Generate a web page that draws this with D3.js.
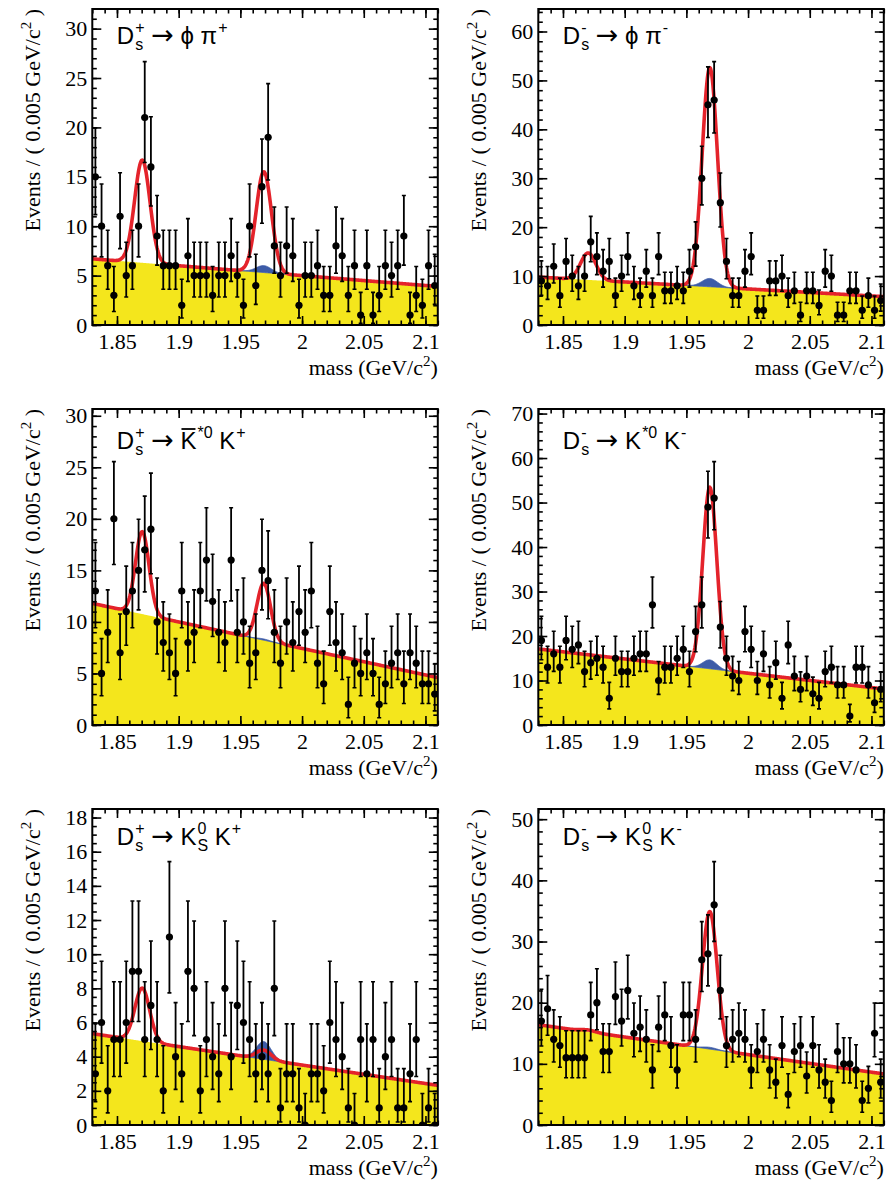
<!DOCTYPE html>
<html>
<head>
<meta charset="utf-8">
<script src="https://cdn.jsdelivr.net/npm/d3@7"></script>
<style>
  html, body { margin: 0; padding: 0; background: #ffffff; }
  svg { display: block; }
  text { white-space: pre; }
</style>
</head>
<body>
<svg id="chart" width="888" height="1192"></svg>
<script>
// ---- Binning: 56 bins of 5 MeV/c^2 over the D(s) mass window ----
const massMin = 1.83;
const massMax = 2.11;
const binWidth = 0.005;
const xTickValues = [1.85, 1.9, 1.95, 2, 2.05, 2.1];
const xTickLabels = ["1.85", "1.9", "1.95", "2", "2.05", "2.1"];

// ---- Event counts per bin ----
const countsPhiPiPlus = [15,10,6,3,11,5,6,10,21,16,9,6,6,6,2,7,5,5,5,3,5,5,7,5,2,10,4,14,19,8,5,8,7,2,5,5,6,3,3,8,7,3,6,1,6,1,3,6,5,6,9,1,3,2,6,4];
const countsPhiPiMinus = [9,8,12,6,13,10,8,10,17,14,11,13,6,10,14,8,6,11,6,14,7,7,8,7,11,16,30,45,46,25,13,6,6,11,14,3,3,9,9,10,6,7,2,7,7,4,11,10,2,2,7,7,3,6,3,5];
const countsKstarKPlus = [13,5,9,20,7,11,13,15,17,19,10,8,7,5,13,8,9,13,16,12,9,8,16,9,10,6,7,15,14,9,6,10,8,11,9,13,6,4,11,8,7,2,6,5,7,5,2,4,6,7,4,7,6,4,4,3];
const countsKstarKMinus = [19,13,16,13,19,17,18,12,14,15,13,6,15,12,12,15,16,16,27,10,13,13,15,17,12,21,27,49,51,22,15,11,10,21,17,10,16,9,14,6,18,11,8,11,7,6,12,13,9,9,2,13,13,9,5,8];
const countsKsKPlus = [3,6,2,5,5,6,9,9,5,7,5,2,11,4,3,9,8,2,5,4,3,8,4,7,6,5,3,4,3,8,1,3,3,1,0,3,3,2,6,5,4,1,0,5,3,5,1,4,5,1,1,3,5,0,1,0];
const countsKsKMinus = [17,19,14,13,11,11,11,11,18,20,12,12,21,17,22,15,16,14,9,16,18,13,9,18,18,14,27,28,36,22,13,14,15,14,9,12,14,9,7,13,5,12,13,8,13,9,7,4,12,10,10,9,4,6,15,7];

// ---- Fit result per channel ----
// combinatorial background (linear) at the two ends of the window
const bkgAtLowEdge  = [6.7, 9.8, 11.8, 17.1, 5.35, 16.4];
const bkgAtHighEdge = [3.9, 5.8, 4.6, 8.1, 2.32, 8.35];
// Gaussian peak heights above background
const dplusPeakHeight = [10.4, 5.5, 8.0, 0.0, 3.1, 0.3];
const dsPeakHeight    = [9.5, 43.1, 5.4, 38.8, -0.5, 22.2];
const peakingBkgHeight = [0.7, 1.7, 0.12, 2.0, 1.04, 0.3];
const peakSigma = [0.0062, 0.0062, 0.0055, 0.0057, 0.0060, 0.0060];
const dplusMass = 1.8705;
const dsMass = 1.969;

// ---- Axis tick steps ----
const yMajorSteps = [5, 10, 5, 10, 2, 10];
const yMinorSteps = [1, 2, 1, 2, 0.5, 2];

// ---- Channel titles (base text with optional sub/superscripts) ----
const titlePhiPiPlus   = [{t: "D", sub: "s", sup: "+"}, {t: " \u2192 \u03d5 \u03c0", sup: "+"}];
const titlePhiPiMinus  = [{t: "D", sub: "s", sup: "-"}, {t: " \u2192 \u03d5 \u03c0", sup: "-"}];
const titleKstarKPlus  = [{t: "D", sub: "s", sup: "+"}, {t: " \u2192 "}, {t: "K", bar: true, sup: "*0"}, {t: " K", sup: "+"}];
const titleKstarKMinus = [{t: "D", sub: "s", sup: "-"}, {t: " \u2192 K", sup: "*0"}, {t: " K", sup: "-"}];
const titleKsKPlus     = [{t: "D", sub: "s", sup: "+"}, {t: " \u2192 K", sub: "S", sup: "0"}, {t: " K", sup: "+"}];
const titleKsKMinus    = [{t: "D", sub: "s", sup: "-"}, {t: " \u2192 K", sub: "S", sup: "0"}, {t: " K", sup: "-"}];

const panelCounts = [countsPhiPiPlus, countsPhiPiMinus, countsKstarKPlus, countsKstarKMinus, countsKsKPlus, countsKsKMinus];
const panelTitles = [titlePhiPiPlus, titlePhiPiMinus, titleKstarKPlus, titleKstarKMinus, titleKsKPlus, titleKsKMinus];

// ---- Layout ----
const colLeft = [92.3, 538.3];
const plotW = 345.5;
const rowTop = [9, 409, 809];
const plotH = 316;
const titleBaseline = [43.5, 449, 845];

const serif = "'Liberation Serif', 'Times New Roman', serif";
const sans = "'Liberation Sans', Arial, Helvetica, sans-serif";
const arrowFont = "'DejaVu Sans', sans-serif";
const yellow = "#f4e61c";
const blue = "#3d5ca8";
const red = "#e4232b";

// ---- Poisson 68.3% central interval for the error bars ----
const tailProb = 0.158655;
function poissonCdf(n, mu) {
  if (n < 0) return 0;
  let term = Math.exp(-mu), s = term;
  for (let k = 1; k <= n; k++) { term *= mu / k; s += term; }
  return s;
}
function poissonUpper(n) {
  let lo = n, hi = n + 20 + 5 * Math.sqrt(n + 1);
  for (let i = 0; i < 80; i++) {
    const mid = (lo + hi) / 2;
    if (poissonCdf(n, mid) > tailProb) lo = mid; else hi = mid;
  }
  return (lo + hi) / 2;
}
function poissonLower(n) {
  if (n === 0) return 0;
  let lo = 0, hi = n;
  for (let i = 0; i < 80; i++) {
    const mid = (lo + hi) / 2;
    if (1 - poissonCdf(n - 1, mid) < tailProb) lo = mid; else hi = mid;
  }
  return (lo + hi) / 2;
}

const svg = d3.select("#chart");

function gauss(m, mean, sigma) {
  const z = (m - mean) / sigma;
  return Math.exp(-0.5 * z * z);
}

// main text run; the arrow is set in a face with a long, thin arrow glyph
function appendRun(textSel, str) {
  str.split(/(\u2192)/).forEach(chunk => {
    if (!chunk) return;
    const ts = textSel.append("tspan").text(chunk);
    if (chunk === "\u2192") ts.attr("font-family", arrowFont).attr("font-size", 27);
  });
}

function drawTitle(g, x, y, parts) {
  let cx = x;
  parts.forEach(p => {
    const base = g.append("text").attr("x", cx).attr("y", y)
      .attr("font-family", sans).attr("font-size", 24).attr("fill", "#000");
    appendRun(base, p.t);
    const w = base.node().getComputedTextLength();
    if (p.bar) {
      const last = p.t.trim();
      const probe = g.append("text").attr("font-family", sans).attr("font-size", 24).text(last);
      const glyphW = probe.node().getComputedTextLength();
      probe.remove();
      g.append("line").attr("x1", cx + w - glyphW + 1).attr("x2", cx + w - 1)
        .attr("y1", y - 20).attr("y2", y - 20).attr("stroke", "#000").attr("stroke-width", 1.8);
    }
    let extra = 0;
    if (p.sub) {
      const s = g.append("text").attr("x", cx + w + 1).attr("y", y + 6)
        .attr("font-family", sans).attr("font-size", 16).text(p.sub);
      extra = Math.max(extra, s.node().getComputedTextLength() + 1);
    }
    if (p.sup) {
      const s = g.append("text").attr("x", cx + w + 1).attr("y", y - 11)
        .attr("font-family", sans).attr("font-size", 16).text(p.sup);
      extra = Math.max(extra, s.node().getComputedTextLength() + 1);
    }
    cx += w + extra;
  });
}

panelCounts.forEach((counts, idx) => {
  const row = Math.floor(idx / 2), col = idx % 2;
  const left = colLeft[col], top = rowTop[row];
  const right = left + plotW, bottom = top + plotH;

  const bins = counts.map((n, i) => ({
    m: massMin + binWidth * (i + 0.5),
    n: n,
    lo: poissonLower(n),
    hi: poissonUpper(n)
  }));
  const yMax = 1.2 * d3.max(bins, d => d.hi);

  const x = d3.scaleLinear().domain([massMin, massMax]).range([left, right]);
  const y = d3.scaleLinear().domain([0, yMax]).range([bottom, top]);

  const g = svg.append("g");
  const clipId = "clip" + idx;
  g.append("clipPath").attr("id", clipId).append("rect")
    .attr("x", left).attr("y", top).attr("width", plotW).attr("height", plotH);
  const plot = g.append("g").attr("clip-path", `url(#${clipId})`);

  // fit components sampled along the mass axis
  const bkg = m => bkgAtLowEdge[idx] + (bkgAtHighEdge[idx] - bkgAtLowEdge[idx]) * (m - massMin) / (massMax - massMin);
  const sig = peakSigma[idx];
  const peaking = m => peakingBkgHeight[idx] * gauss(m, dsMass, sig);
  const total = m => bkg(m) + peaking(m) + dplusPeakHeight[idx] * gauss(m, dplusMass, sig) + dsPeakHeight[idx] * gauss(m, dsMass, sig);
  const grid = d3.range(0, 561).map(i => massMin + i * 0.0005);

  plot.append("path")
    .attr("d", d3.area().x(m => x(m)).y0(y(0)).y1(m => y(bkg(m)))(grid))
    .attr("fill", yellow);

  plot.append("path")
    .attr("d", d3.area().x(m => x(m)).y0(m => y(bkg(m))).y1(m => y(bkg(m) + peaking(m)))(grid.filter(m => Math.abs(m - dsMass) < 5 * sig)))
    .attr("fill", blue).attr("stroke", blue).attr("stroke-width", 0.8);

  plot.append("path")
    .attr("d", d3.line().x(m => x(m)).y(m => y(total(m)))(grid))
    .attr("fill", "none").attr("stroke", red).attr("stroke-width", 3.6).attr("stroke-linejoin", "round");

  // data points with Poisson error bars
  const pts = plot.append("g");
  bins.forEach(b => {
    const px = x(b.m);
    pts.append("line").attr("x1", px).attr("x2", px).attr("y1", y(b.lo)).attr("y2", y(b.hi))
      .attr("stroke", "#000").attr("stroke-width", 1.8);
    [b.lo, b.hi].forEach(v => {
      pts.append("line").attr("x1", px - 2).attr("x2", px + 2).attr("y1", y(v)).attr("y2", y(v))
        .attr("stroke", "#000").attr("stroke-width", 1.6);
    });
    pts.append("line").attr("x1", x(b.m - binWidth / 2)).attr("x2", x(b.m + binWidth / 2))
      .attr("y1", y(b.n)).attr("y2", y(b.n)).attr("stroke", "#000").attr("stroke-width", 1.8);
    pts.append("circle").attr("cx", px).attr("cy", y(b.n)).attr("r", 3.6).attr("fill", "#000");
  });

  // axes: ticks on all four sides, pointing inwards
  const yMajors = d3.range(0, yMax + 1e-9, yMajorSteps[idx]);
  const yMinors = d3.range(0, yMax + 1e-9, yMinorSteps[idx]);
  const xMinors = d3.range(0, 29).map(i => +(massMin + i * 0.01).toFixed(3));

  function styleAxis(sel) {
    sel.select(".domain").remove();
    sel.selectAll(".tick line").attr("stroke", "#000").attr("stroke-width", 1.6);
    sel.selectAll(".tick text").attr("font-family", serif).attr("font-size", 22).attr("fill", "#000");
  }

  g.append("g").attr("transform", `translate(${left},0)`)
    .call(d3.axisLeft(y).tickValues(yMinors).tickSize(-4.5).tickFormat("")).call(styleAxis);
  g.append("g").attr("transform", `translate(${left},0)`)
    .call(d3.axisLeft(y).tickValues(yMajors).tickSize(-9).tickPadding(5).tickFormat(d3.format("d"))).call(styleAxis);
  g.append("g").attr("transform", `translate(${right},0)`)
    .call(d3.axisRight(y).tickValues(yMinors).tickSize(-4.5).tickFormat("")).call(styleAxis);
  g.append("g").attr("transform", `translate(${right},0)`)
    .call(d3.axisRight(y).tickValues(yMajors).tickSize(-9).tickFormat("")).call(styleAxis);

  g.append("g").attr("transform", `translate(0,${bottom})`)
    .call(d3.axisBottom(x).tickValues(xMinors).tickSize(-4.5).tickFormat("")).call(styleAxis);
  g.append("g").attr("transform", `translate(0,${bottom})`)
    .call(d3.axisBottom(x).tickValues(xTickValues).tickSize(-9).tickPadding(8)
      .tickFormat((d, i) => xTickLabels[i])).call(styleAxis);
  g.append("g").attr("transform", `translate(0,${top})`)
    .call(d3.axisTop(x).tickValues(xMinors).tickSize(-4.5).tickFormat("")).call(styleAxis);
  g.append("g").attr("transform", `translate(0,${top})`)
    .call(d3.axisTop(x).tickValues(xTickValues).tickSize(-9).tickFormat("")).call(styleAxis);

  g.append("rect").attr("x", left).attr("y", top).attr("width", plotW).attr("height", plotH)
    .attr("fill", "none").attr("stroke", "#000").attr("stroke-width", 2);

  // axis titles
  const xt = g.append("text").attr("x", right).attr("y", bottom + 50)
    .attr("text-anchor", "end").attr("font-family", serif).attr("font-size", 22);
  xt.append("tspan").text("mass (GeV/c");
  xt.append("tspan").attr("dy", -9).attr("font-size", 15).text("2");
  xt.append("tspan").attr("dy", 9).text(")");

  const yt = g.append("text").attr("transform", `translate(${left - 52},${top}) rotate(-90)`)
    .attr("text-anchor", "end").attr("font-family", serif).attr("font-size", 22);
  yt.append("tspan").text("Events / ( 0.005 GeV/c");
  yt.append("tspan").attr("dy", -9).attr("font-size", 15).text("2");
  yt.append("tspan").attr("dy", 9).text(" )");

  drawTitle(g, left + 24.5, titleBaseline[row], panelTitles[idx]);
});
</script>
</body>
</html>
